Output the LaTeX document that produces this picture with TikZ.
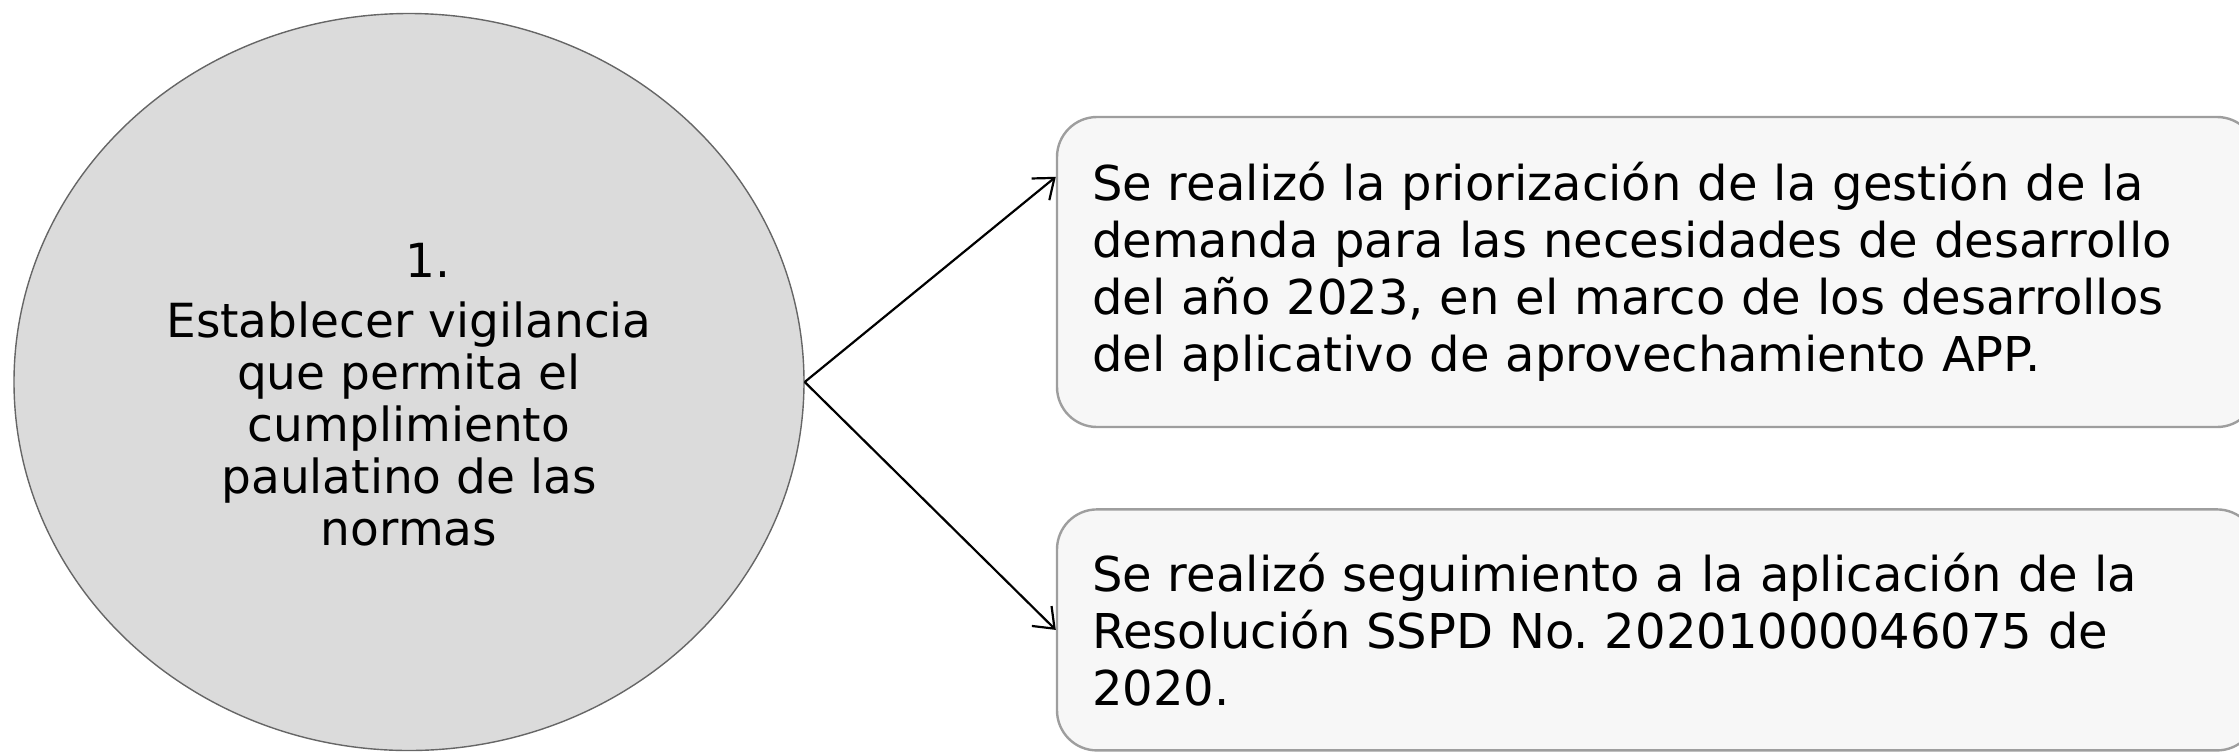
\documentclass[tikz,border=0pt]{standalone}
\usepackage{fontspec}
\setmainfont{DejaVu Sans}
\frenchspacing
\usetikzlibrary{shapes.geometric,arrows.meta,positioning}

\begin{document}
\begin{tikzpicture}[x=0.5pt,y=-0.5pt,
    node distance=40pt,
    goal/.style={ellipse,draw=black!60,line width=0.7pt,fill=black!14,minimum width=395pt,minimum height=368.5pt,inner sep=0pt,align=center,font=\fontsize{23.5}{26}\selectfont},
    result/.style={rectangle,rounded corners=20pt,draw=black!38,line width=1.2pt,fill=black!3,minimum width=600pt,inner sep=0pt,text width=565pt,align=left,font=\fontsize{24}{28.5}\selectfont},
    arrow/.style={-{Straight Barb[length=9pt,width=14pt]},line width=1.1pt}
]
\useasboundingbox (0,0) rectangle (2239,751);

% Objetivo
\node[goal] (objetivo) at (409,382) {\rule{0pt}{30pt}\hspace*{0.8em}1.\\[4pt]Establecer vigilancia\\que permita el\\cumplimiento\\paulatino de las\\normas};

% Resultados
\node[result,minimum height=155pt] (priorizacion) at (1657,272) {Se realizó la priorización de la gestión de la\\demanda para las necesidades de desarrollo\\del año 2023, en el marco de los desarrollos\\del aplicativo de aprovechamiento APP.};
\node[result,minimum height=120.5pt,below=of priorizacion] (seguimiento) {Se realizó seguimiento a la aplicación de la\\Resolución SSPD No. 20201000046075 de\\2020.};

% Conexiones
\draw[arrow] (objetivo.east) -- (priorizacion.171);
\draw[arrow] (objetivo.east) -- (seguimiento.west);

\end{tikzpicture}
\end{document}
